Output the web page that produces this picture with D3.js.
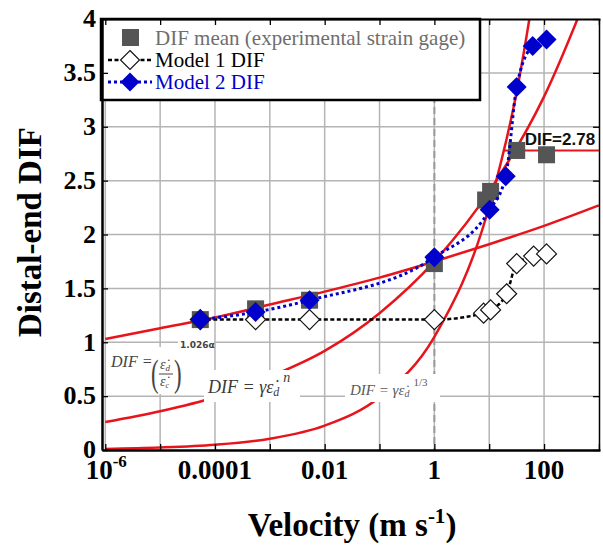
<!DOCTYPE html>
<html>
<head>
<meta charset="utf-8">
<title>Distal-end DIF</title>
<style>
  body { margin: 0; background: #fff; }
</style>
</head>
<body>
<main></main>
<script src="https://cdn.jsdelivr.net/npm/d3@7/dist/d3.min.js"></script>
<script>
// data =================================================
// DIF mean (experimental strain gage)
var expVel = [5.4e-5, 5.5e-4, 5.3e-3, 1, 8.6, 10.6, 31.7, 111];
var expDif = [1.21, 1.31, 1.39, 1.73, 2.32, 2.40, 2.78, 2.74];
// Model 1 DIF
var m1Vel = [5.4e-5, 5.5e-4, 5.3e-3, 1, 7.9, 10.6, 20.8, 31.7, 64.6, 111];
var m1Dif = [1.21, 1.21, 1.21, 1.21, 1.27, 1.30, 1.45, 1.73, 1.80, 1.82];
// Model 2 DIF
var m2Vel = [5.4e-5, 5.5e-4, 5.3e-3, 1, 10.2, 20, 31.7, 62, 111];
var m2Dif = [1.21, 1.28, 1.39, 1.79, 2.23, 2.54, 3.37, 3.75, 3.81];

// red model curves
var curveVel = [1e-6, 1e-5, 1e-4, 1e-3, 1e-2, 1e-1, 1, 10, 100, 1000];
var curve1Dif = [1.03, 1.13, 1.23, 1.35, 1.47, 1.60, 1.75, 1.91, 2.08, 2.27];
var curve2Dif = [0.26, 0.36, 0.49, 0.68, 0.92, 1.27, 1.75, 2.40, 3.28, 4.50];
var curve3Vel = [1e-6, 1e-5, 1e-4, 1e-3, 1e-2, 1e-1, 1, 10, 31.6, 100];
var curve3Dif = [0.01, 0.023, 0.049, 0.105, 0.226, 0.49, 1.05, 2.26, 3.32, 4.87];
var plateauVel = [18.6, 1000];
var plateauDif = 2.78;

// ticks
var xGridVals = [1e-6, 1e-5, 1e-4, 1e-3, 1e-2, 1e-1, 1, 10, 100, 1000];
var xLabelVals = [1e-4, 1e-2, 1, 100];
var xLabelText = ["0.0001", "0.01", "1", "100"];
var yTickVals = [0, 0.5, 1, 1.5, 2, 2.5, 3, 3.5, 4];

// size ====================================
var width = 603;
var height = 545;
var plot = {left: 102, right: 600, top: 19, bottom: 450};

var red = "#e8141b";
var blue = "#0000cc";
var gray = "#555555";
var serif = "'Liberation Serif', 'Times New Roman', serif";

var svg = d3.select("main")
    .append("svg")
    .attr("width", width)
    .attr("height", height)
    .attr("font-family", serif);

var x = d3.scaleLog()
    .domain([Math.pow(10, -6.06), Math.pow(10, 3.02)])
    .range([plot.left, plot.right]);
var y = d3.scaleLinear()
    .domain([0, 4])
    .range([plot.bottom, plot.top]);

svg.append("clipPath").attr("id", "clip")
    .append("rect")
    .attr("x", plot.left).attr("y", plot.top)
    .attr("width", plot.right - plot.left).attr("height", plot.bottom - plot.top);

// grid ====================================
var grid = svg.append("g");
grid.selectAll(".gx").data(xGridVals.slice(0, -1)).enter().append("line")
    .attr("x1", function (d) { return x(d); })
    .attr("x2", function (d) { return x(d); })
    .attr("y1", plot.top).attr("y2", plot.bottom)
    .attr("stroke", "#b4b4b4").attr("stroke-width", 1.5);
grid.selectAll(".gy").data(yTickVals.slice(1, -1)).enter().append("line")
    .attr("x1", plot.left).attr("x2", plot.right)
    .attr("y1", function (d) { return y(d); })
    .attr("y2", function (d) { return y(d); })
    .attr("stroke", "#b4b4b4").attr("stroke-width", 1.5);

// dashed line at 1 m/s
svg.append("line")
    .attr("x1", x(1)).attr("x2", x(1))
    .attr("y1", plot.top).attr("y2", plot.bottom)
    .attr("stroke", "#999").attr("stroke-width", 2)
    .attr("stroke-dasharray", "7,4");

// red curves ===============================
var redLine = d3.line()
    .x(function (d) { return x(d[0]); })
    .y(function (d) { return y(d[1]); })
    .curve(d3.curveMonotoneX);

var curves = svg.append("g").attr("clip-path", "url(#clip)");
[[curveVel, curve1Dif], [curveVel, curve2Dif], [curve3Vel, curve3Dif]].forEach(function (c) {
    curves.append("path")
        .datum(d3.zip(c[0], c[1]))
        .attr("d", redLine)
        .attr("fill", "none")
        .attr("stroke", red)
        .attr("stroke-width", 2.5);
});
curves.append("path")
    .datum(plateauVel.map(function (v) { return [v, plateauDif]; }))
    .attr("d", redLine)
    .attr("fill", "none")
    .attr("stroke", red)
    .attr("stroke-width", 2);

// formulas (pasted images in the original) ==
var f = svg.append("g").attr("font-family", serif);
f.append("rect").attr("x", 108).attr("y", 347).attr("width", 70).attr("height", 47).attr("fill", "#fff");
f.append("rect").attr("x", 178).attr("y", 336).attr("width", 36).attr("height", 14).attr("fill", "#fff");
f.append("rect").attr("x", 204).attr("y", 370).attr("width", 96).attr("height", 32).attr("fill", "#fff");
f.append("rect").attr("x", 345).attr("y", 374).attr("width", 95).attr("height", 28).attr("fill", "#fff");

// DIF = (ed/ec)^1.026a
f.append("text").attr("x", 111).attr("y", 367)
    .attr("font-style", "italic")
    .attr("font-size", 16).attr("fill", "#444").text("DIF =");
f.append("text").attr("x", 151).attr("y", 386)
    .attr("font-size", 38).attr("fill", "#444")
    .attr("transform", "translate(151,386) scale(0.6,1) translate(-151,-386)").text("(");
f.append("text").attr("x", 174).attr("y", 386)
    .attr("font-size", 38).attr("fill", "#444")
    .attr("transform", "translate(174,386) scale(0.6,1) translate(-174,-386)").text(")");
var num = f.append("text").attr("x", 160).attr("y", 369)
    .attr("font-style", "italic")
    .attr("font-size", 14).attr("fill", "#444");
num.append("tspan").text("ε\u0307");
num.append("tspan").attr("font-size", 9).attr("dy", 2).text("d");
f.append("line").attr("x1", 159).attr("x2", 173).attr("y1", 374).attr("y2", 374)
    .attr("stroke", "#444").attr("stroke-width", 1);
var den = f.append("text").attr("x", 160).attr("y", 386)
    .attr("font-style", "italic")
    .attr("font-size", 14).attr("fill", "#444");
den.append("tspan").text("ε\u0307");
den.append("tspan").attr("font-size", 8).attr("dy", 2).text("c");
f.append("text").attr("x", 180).attr("y", 348)
    .attr("font-family", "'DejaVu Sans', sans-serif").attr("font-weight", "bold")
    .attr("font-size", 9).attr("fill", "#444").text("1.026α");

// DIF = g e_d ^ n
var f2 = f.append("text").attr("x", 208).attr("y", 393)
    .attr("font-style", "italic")
    .attr("font-size", 18).attr("fill", "#3a3a3a");
f2.append("tspan").text("DIF = γε\u0307");
f2.append("tspan").attr("font-size", 12).attr("dy", 3).text("d");
f2.append("tspan").attr("font-size", 14).attr("dy", -14).attr("dx", 4).text("n");

// DIF = g e_d ^ 1/3
var f3 = f.append("text").attr("x", 350).attr("y", 395)
    .attr("font-style", "italic")
    .attr("font-size", 15).attr("fill", "#5a5a5a");
f3.append("tspan").text("DIF = γε\u0307");
f3.append("tspan").attr("font-size", 10).attr("dy", 2).text("d");
f3.append("tspan").attr("font-size", 11).attr("dy", -11).attr("dx", 4).attr("font-style", "normal").text("1/3");

// DIF=2.78 label
svg.append("text")
    .attr("x", x(31.7) + 8).attr("y", y(plateauDif) - 5)
    .attr("font-family", "'Liberation Sans', Arial, sans-serif")
    .attr("font-weight", "bold").attr("font-size", 17)
    .attr("fill", "#111").text("DIF=" + plateauDif);

// series ==================================
var dotLine = d3.line()
    .x(function (d) { return x(d[0]); })
    .y(function (d) { return y(d[1]); })
    .curve(d3.curveMonotoneX);

var diamond = "M0,-10L10,0L0,10L-10,0Z";

// squares
svg.selectAll(".sq").data(d3.zip(expVel, expDif)).enter().append("rect")
    .attr("x", function (d) { return x(d[0]) - 8.5; })
    .attr("y", function (d) { return y(d[1]) - 8.5; })
    .attr("width", 17).attr("height", 17)
    .attr("fill", gray);

// model 1
svg.append("path")
    .datum(d3.zip(m1Vel, m1Dif))
    .attr("d", dotLine)
    .attr("fill", "none").attr("stroke", "#000")
    .attr("stroke-width", 2.5).attr("stroke-dasharray", "4,2.5");
svg.selectAll(".m1").data(d3.zip(m1Vel, m1Dif)).enter().append("path")
    .attr("d", diamond)
    .attr("transform", function (d) { return "translate(" + x(d[0]) + "," + y(d[1]) + ")"; })
    .attr("fill", "#fff").attr("stroke", "#111").attr("stroke-width", 1.2);

// model 2
svg.append("path")
    .datum(d3.zip(m2Vel, m2Dif))
    .attr("d", dotLine)
    .attr("fill", "none").attr("stroke", blue)
    .attr("stroke-width", 3).attr("stroke-dasharray", "3,3");
svg.selectAll(".m2").data(d3.zip(m2Vel, m2Dif)).enter().append("path")
    .attr("d", diamond)
    .attr("transform", function (d) { return "translate(" + x(d[0]) + "," + y(d[1]) + ")"; })
    .attr("fill", blue);

// legend ==================================
var lg = svg.append("g");
lg.append("rect")
    .attr("x", 101).attr("y", 19).attr("width", 379).attr("height", 81)
    .attr("fill", "#fff").attr("stroke", "#000").attr("stroke-width", 2.5);
lg.append("rect").attr("x", 122).attr("y", 29).attr("width", 17).attr("height", 17).attr("fill", gray);
lg.append("text").attr("x", 155).attr("y", 45).attr("font-size", 21).attr("fill", "#6e6e6e")
    .text("DIF mean (experimental strain gage)");
lg.append("line").attr("x1", 108).attr("x2", 152).attr("y1", 60).attr("y2", 60)
    .attr("stroke", "#000").attr("stroke-width", 2.5).attr("stroke-dasharray", "4,2.5");
lg.append("path").attr("d", diamond).attr("transform", "translate(130,60) scale(0.95)")
    .attr("fill", "#fff").attr("stroke", "#111").attr("stroke-width", 1.2);
lg.append("text").attr("x", 155).attr("y", 67).attr("font-size", 21).attr("fill", "#000")
    .text("Model 1 DIF");
lg.append("line").attr("x1", 108).attr("x2", 152).attr("y1", 82).attr("y2", 82)
    .attr("stroke", blue).attr("stroke-width", 3).attr("stroke-dasharray", "3,3");
lg.append("path").attr("d", diamond).attr("transform", "translate(130,82) scale(0.95)")
    .attr("fill", blue);
lg.append("text").attr("x", 155).attr("y", 89).attr("font-size", 21).attr("fill", blue)
    .text("Model 2 DIF");

// axes ====================================
var axB = svg.append("g").attr("transform", "translate(0," + plot.bottom + ")")
    .call(d3.axisBottom(x).tickValues(xGridVals).tickSizeInner(-6).tickSizeOuter(0).tickFormat(""));
var axT = svg.append("g").attr("transform", "translate(0," + plot.top + ")")
    .call(d3.axisTop(x).tickValues(xGridVals).tickSizeInner(-6).tickSizeOuter(0).tickFormat(""));
var axL = svg.append("g").attr("transform", "translate(" + plot.left + ",0)")
    .call(d3.axisLeft(y).tickValues(yTickVals).tickSizeInner(-6).tickSizeOuter(0).tickPadding(6)
        .tickFormat(function (d) { return d; }));
var axR = svg.append("g").attr("transform", "translate(" + (plot.right - 1) + ",0)")
    .call(d3.axisRight(y).tickValues(yTickVals).tickSizeInner(-6).tickSizeOuter(0).tickFormat(""));

[axB, axT, axL, axR].forEach(function (a) {
    a.selectAll(".tick line").attr("stroke", "#000").attr("stroke-width", 1.3);
    a.select(".domain").attr("stroke", "#000");
});
axB.select(".domain").attr("stroke-width", 2.5);
axL.select(".domain").attr("stroke-width", 2.5);
axT.select(".domain").attr("stroke-width", 2);
axR.select(".domain").attr("stroke-width", 1.5);
axL.attr("font-family", serif);
axL.selectAll(".tick text")
    .attr("font-weight", "bold").attr("font-size", 26).attr("fill", "#000")
    .attr("dy", "0.3em");

// x tick labels
var xl = svg.append("g").attr("font-weight", "bold").attr("font-size", 27);
xl.selectAll("text").data(xLabelVals).enter().append("text")
    .attr("x", function (d) { return x(d); })
    .attr("y", 479)
    .attr("text-anchor", "middle")
    .text(function (d, i) { return xLabelText[i]; });
var t6 = xl.append("text").attr("x", x(1e-6) + 1).attr("y", 479).attr("text-anchor", "middle");
t6.append("tspan").text("10");
t6.append("tspan").attr("font-size", 17).attr("dy", -12).text("-6");

// axis titles
var xt = svg.append("text")
    .attr("x", 352).attr("y", 536)
    .attr("text-anchor", "middle")
    .attr("font-weight", "bold").attr("font-size", 33);
xt.append("tspan").text("Velocity (m s");
xt.append("tspan").attr("font-size", 21).attr("dy", -13).text("-1");
xt.append("tspan").attr("dy", 13).text(")");

svg.append("text")
    .attr("transform", "translate(41,232) rotate(-90)")
    .attr("text-anchor", "middle")
    .attr("font-weight", "bold").attr("font-size", 33)
    .text("Distal-end DIF");
</script>
</body>
</html>
